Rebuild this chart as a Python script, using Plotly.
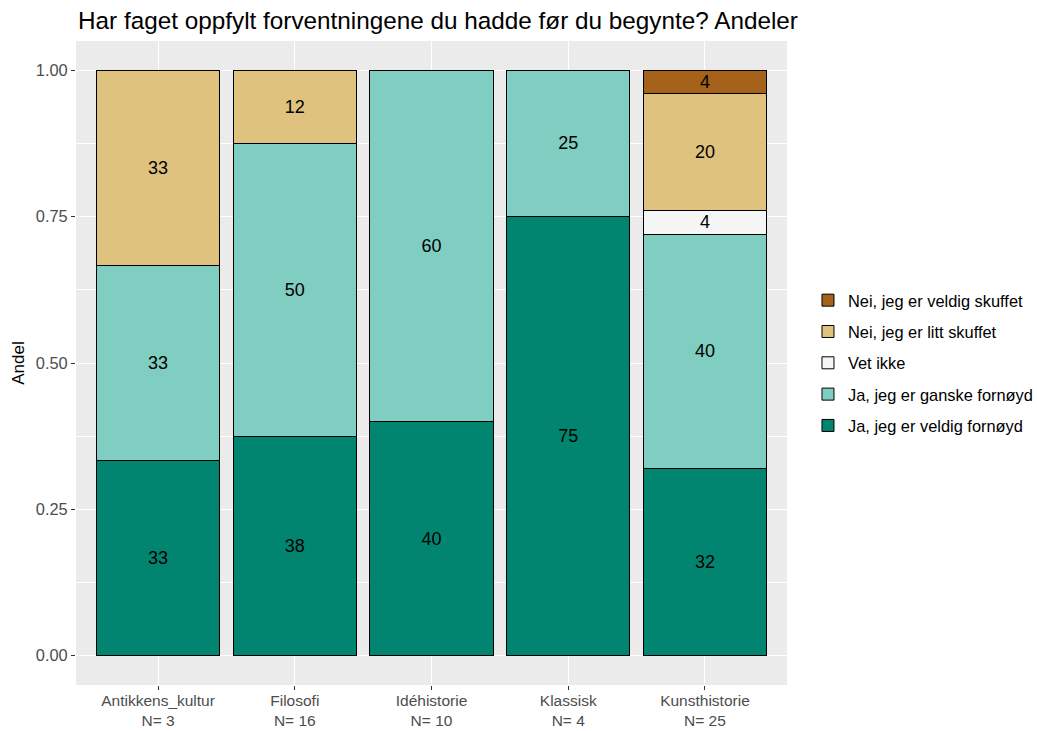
import plotly.graph_objects as go

categories = ["Antikkens_kultur", "Filosofi", "Idéhistorie", "Klassisk", "Kunsthistorie"]
n_values = [3, 16, 10, 4, 25]
tick_labels = [f"{c}<br>N= {n}" for c, n in zip(categories, n_values)]

# counts per answer (bottom to top in stack)
veldig_fornoyd = [1, 6, 4, 3, 8]
ganske_fornoyd = [1, 8, 6, 1, 10]
vet_ikke = [0, 0, 0, 0, 1]
litt_skuffet = [1, 2, 0, 0, 5]
veldig_skuffet = [0, 0, 0, 0, 1]

series = [
    ("Ja, jeg er veldig fornøyd", veldig_fornoyd, "#018571"),
    ("Ja, jeg er ganske fornøyd", ganske_fornoyd, "#80CDC1"),
    ("Vet ikke", vet_ikke, "#F5F5F5"),
    ("Nei, jeg er litt skuffet", litt_skuffet, "#DFC27D"),
    ("Nei, jeg er veldig skuffet", veldig_skuffet, "#A6611A"),
]

FONT = "Liberation Sans, Arial"

fig = go.Figure()
for i, (name, counts, color) in enumerate(series):
    shares = [c / n for c, n in zip(counts, n_values)]
    texts = [str(round(s * 100)) if s > 0 else "" for s in shares]
    fig.add_trace(go.Bar(
        x=tick_labels, y=shares, name=name,
        marker=dict(color=color, line=dict(color="black", width=1)),
        text=texts, textposition="inside", insidetextanchor="middle",
        textangle=0, constraintext="none", cliponaxis=False,
        textfont=dict(size=18, color="black", family=FONT),
        width=0.9, legendgroup=f"g{i}", legendrank=100 + (len(series) - i),
        hoverinfo="skip",
    ))

fig.update_layout(
    barmode="stack",
    width=1037, height=731,
    margin=dict(l=76, r=250, t=41, b=46, autoexpand=False),
    paper_bgcolor="white",
    plot_bgcolor="#EBEBEB",
    font=dict(family=FONT, color="#4D4D4D"),
    title=dict(text="Har faget oppfylt forventningene du hadde før du begynte? Andeler",
               x=78 / 1037, xanchor="left", y=1 - 20 / 731, yanchor="middle",
               font=dict(size=24.3, color="black")),
    legend=dict(x=1.0295, xanchor="left", y=0.5, yanchor="middle",
                traceorder="grouped", tracegroupgap=7,
                font=dict(size=16.4, color="black"), bgcolor="rgba(0,0,0,0)"),
    showlegend=True,
)
fig.update_xaxes(range=[-0.6, 4.6], showgrid=True, gridcolor="white", gridwidth=1.1,
                 ticks="outside", ticklen=4, tickcolor="#333333", automargin=False,
                 ticklabelstandoff=-3,
                 tickfont=dict(size=15.5, color="#4D4D4D"), zeroline=False)
fig.update_yaxes(range=[-0.05, 1.05], tickvals=[0, 0.25, 0.5, 0.75, 1.0],
                 ticktext=["0.00", "0.25", "0.50", "0.75", "1.00"],
                 showgrid=True, gridcolor="white", gridwidth=1.1,
                 minor=dict(tickvals=[0.125, 0.375, 0.625, 0.875], showgrid=True,
                            gridcolor="white", gridwidth=0.5),
                 ticks="outside", ticklen=4, tickcolor="#333333", automargin=False,
                 tickfont=dict(size=16.4, color="#4D4D4D"), zeroline=False,
                 title=dict(text="Andel", font=dict(size=17, color="black"), standoff=6))

fig.write_html("out.html", config={"displayModeBar": False},
               post_script="document.body.style.margin='0px';")
